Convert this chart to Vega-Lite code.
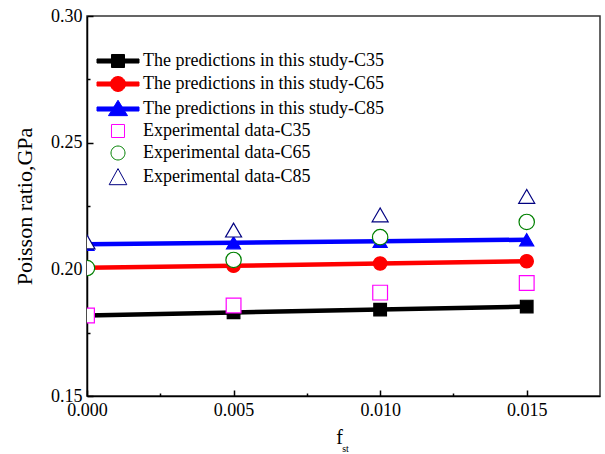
{
  "$schema": "https://vega.github.io/schema/vega-lite/v6.json",
  "autosize": "none",
  "padding": {"left": 87, "top": 16, "right": 5, "bottom": 58},
  "width": 513,
  "height": 380,
  "background": "white",
  "config": {
    "view": {"stroke": "#333333", "strokeWidth": 1.5},
    "font": "Liberation Serif",
    "axis": {
      "domainColor": "black", "domainWidth": 1.5,
      "tickColor": "black", "tickWidth": 1.5,
      "labelFont": "Liberation Serif", "labelFontSize": 18, "labelColor": "black",
      "titleFont": "Liberation Serif", "titleFontWeight": "normal", "titleColor": "black",
      "grid": false
    }
  },
  "title": {
    "text": "st",
    "orient": "bottom",
    "anchor": "middle",
    "font": "Liberation Serif",
    "fontSize": 10,
    "fontWeight": "normal",
    "color": "black",
    "offset": -3,
    "dx": 2
  },
  "data": {
    "values": [
      {"series": "The predictions in this study-C35", "kind": "pred", "fst": 0.000, "v": 0.1818},
      {"series": "The predictions in this study-C35", "kind": "pred", "fst": 0.005, "v": 0.1830},
      {"series": "The predictions in this study-C35", "kind": "pred", "fst": 0.010, "v": 0.1841},
      {"series": "The predictions in this study-C35", "kind": "pred", "fst": 0.015, "v": 0.1853},
      {"series": "The predictions in this study-C65", "kind": "pred", "fst": 0.000, "v": 0.2006},
      {"series": "The predictions in this study-C65", "kind": "pred", "fst": 0.005, "v": 0.2014},
      {"series": "The predictions in this study-C65", "kind": "pred", "fst": 0.010, "v": 0.2023},
      {"series": "The predictions in this study-C65", "kind": "pred", "fst": 0.015, "v": 0.2032},
      {"series": "The predictions in this study-C85", "kind": "pred", "fst": 0.000, "v": 0.2099},
      {"series": "The predictions in this study-C85", "kind": "pred", "fst": 0.005, "v": 0.2105},
      {"series": "The predictions in this study-C85", "kind": "pred", "fst": 0.010, "v": 0.2111},
      {"series": "The predictions in this study-C85", "kind": "pred", "fst": 0.015, "v": 0.2117},
      {"series": "Experimental data-C35", "kind": "exp", "fst": 0.000, "v": 0.1818},
      {"series": "Experimental data-C35", "kind": "exp", "fst": 0.005, "v": 0.1857},
      {"series": "Experimental data-C35", "kind": "exp", "fst": 0.010, "v": 0.1908},
      {"series": "Experimental data-C35", "kind": "exp", "fst": 0.015, "v": 0.1946},
      {"series": "Experimental data-C65", "kind": "exp", "fst": 0.000, "v": 0.2005},
      {"series": "Experimental data-C65", "kind": "exp", "fst": 0.005, "v": 0.2037},
      {"series": "Experimental data-C65", "kind": "exp", "fst": 0.010, "v": 0.2127},
      {"series": "Experimental data-C65", "kind": "exp", "fst": 0.015, "v": 0.2187},
      {"series": "Experimental data-C85", "kind": "exp", "fst": 0.000, "v": 0.2108},
      {"series": "Experimental data-C85", "kind": "exp", "fst": 0.005, "v": 0.2155},
      {"series": "Experimental data-C85", "kind": "exp", "fst": 0.010, "v": 0.2215},
      {"series": "Experimental data-C85", "kind": "exp", "fst": 0.015, "v": 0.2288}
    ]
  },
  "encoding": {
    "x": {
      "field": "fst", "type": "quantitative",
      "scale": {"domain": [0, 0.0175], "nice": false, "zero": false},
      "axis": {
        "title": "f",
        "titleFontSize": 20,
        "titleX": 252,
        "titleAlign": "center",
        "titlePadding": 5,
        "values": [0, 0.0025, 0.005, 0.0075, 0.01, 0.0125, 0.015],
        "format": ".3f",
        "labelExpr": "indexof(['0.000','0.005','0.010','0.015'], datum.label) >= 0 ? datum.label : ''",
        "tickSize": {"condition": {"test": "indexof([0, 0.005, 0.01, 0.015], datum.value) >= 0", "value": -6}, "value": -3},
        "labelPadding": 11,
        "labelFlush": false,
        "labelOverlap": false
      }
    },
    "y": {
      "field": "v", "type": "quantitative",
      "scale": {"domain": [0.15, 0.30], "nice": false, "zero": false},
      "axis": {
        "title": "Poisson ratio,GPa",
        "titleFontSize": 22,
        "titleX": -63,
        "titleBaseline": "middle",
        "values": [0.15, 0.175, 0.2, 0.225, 0.25, 0.275, 0.3],
        "format": ".2f",
        "labelExpr": "indexof(['0.15','0.20','0.25','0.30'], datum.label) >= 0 ? datum.label : ''",
        "tickSize": {"condition": {"test": "indexof([0.15, 0.2, 0.25, 0.3], datum.value) >= 0", "value": -6}, "value": -3},
        "labelPadding": 11,
        "labelFlush": false,
        "labelOverlap": false
      }
    }
  },
  "layer": [
    {
      "transform": [{"filter": "datum.kind == 'pred'"}],
      "mark": {"type": "line", "strokeWidth": 4.5, "clip": true},
      "encoding": {
        "stroke": {
          "field": "series", "type": "nominal", "legend": null,
          "scale": {
            "domain": ["The predictions in this study-C35", "The predictions in this study-C65", "The predictions in this study-C85"],
            "range": ["#000000", "#ff0000", "#0000ff"]
          }
        }
      }
    },
    {
      "mark": {"type": "point", "strokeWidth": 1.2, "opacity": 1, "fillOpacity": 1, "clip": true},
      "encoding": {
        "stroke": {
          "field": "series", "type": "nominal", "legend": null,
          "scale": {
            "domain": ["The predictions in this study-C35", "The predictions in this study-C65", "The predictions in this study-C85", "Experimental data-C35", "Experimental data-C65", "Experimental data-C85"],
            "range": ["#000000", "#ff0000", "#0000ff", "#ff00ff", "#008000", "#000080"]
          }
        },
        "fill": {
          "field": "series", "type": "nominal", "legend": null,
          "scale": {
            "domain": ["The predictions in this study-C35", "The predictions in this study-C65", "The predictions in this study-C85", "Experimental data-C35", "Experimental data-C65", "Experimental data-C85"],
            "range": ["#000000", "#ff0000", "#0000ff", "#ffffff", "#ffffff", "#ffffff"]
          }
        },
        "shape": {
          "field": "series", "type": "nominal", "legend": null,
          "scale": {
            "domain": ["The predictions in this study-C35", "The predictions in this study-C65", "The predictions in this study-C85", "Experimental data-C35", "Experimental data-C65", "Experimental data-C85"],
            "range": ["square", "circle", "triangle-up", "square", "circle", "triangle-up"]
          }
        },
        "size": {
          "field": "series", "type": "nominal", "legend": null,
          "scale": {
            "domain": ["The predictions in this study-C35", "The predictions in this study-C65", "The predictions in this study-C85", "Experimental data-C35", "Experimental data-C65", "Experimental data-C85"],
            "range": [160, 256, 340, 180, 225, 310]
          }
        }
      }
    },
    {
      "transform": [{"filter": "false"}],
      "mark": {"type": "point", "strokeWidth": 1, "opacity": 1, "fillOpacity": 1},
      "encoding": {
        "stroke": {
          "field": "series", "type": "nominal",
          "scale": {
            "domain": ["The predictions in this study-C35", "The predictions in this study-C65", "The predictions in this study-C85", "Experimental data-C35", "Experimental data-C65", "Experimental data-C85"],
            "range": ["#000000", "#ff0000", "#0000ff", "#ff00ff", "#008000", "#000080"]
          },
          "legend": {
            "title": null,
            "orient": "none",
            "legendX": 8,
            "legendY": 36,
            "padding": 0,
            "symbolSize": 196,
            "symbolStrokeWidth": 1,
            "labelFont": "Liberation Serif",
            "labelFontSize": 18,
            "labelColor": "black",
            "labelOffset": 30,
            "labelLimit": 400,
            "rowPadding": 4
          }
        },
        "fill": {
          "field": "series", "type": "nominal",
          "scale": {
            "domain": ["The predictions in this study-C35", "The predictions in this study-C65", "The predictions in this study-C85", "Experimental data-C35", "Experimental data-C65", "Experimental data-C85"],
            "range": ["#000000", "#ff0000", "#0000ff", "#ffffff", "#ffffff", "#ffffff"]
          },
          "legend": {
            "title": null,
            "orient": "none",
            "legendX": 8,
            "legendY": 36,
            "padding": 0,
            "symbolSize": 196,
            "symbolStrokeWidth": 1,
            "labelFont": "Liberation Serif",
            "labelFontSize": 18,
            "labelColor": "black",
            "labelOffset": 30,
            "labelLimit": 400,
            "rowPadding": 4
          }
        },
        "shape": {
          "field": "series", "type": "nominal",
          "scale": {
            "domain": ["The predictions in this study-C35", "The predictions in this study-C65", "The predictions in this study-C85", "Experimental data-C35", "Experimental data-C65", "Experimental data-C85"],
            "range": [
              "M-1,-0.29H5V0.29H-1Z M1.07,-0.93H2.93V0.93H1.07Z",
              "M-1,-0.29H5V0.29H-1Z M3.07,0A1.07,1.07 0 1,1 0.93,0A1.07,1.07 0 1,1 3.07,0Z",
              "M-1,-0.29H5V0.29H-1Z M2,-1.25L3.36,0.95H0.64Z",
              "M1.07,-0.93H2.93V0.93H1.07Z",
              "M3,0A1,1 0 1,1 1,0A1,1 0 1,1 3,0Z",
              "M2,-1.2L3.26,1.1H0.74Z"
            ]
          },
          "legend": {
            "title": null,
            "orient": "none",
            "legendX": 8,
            "legendY": 36,
            "padding": 0,
            "symbolSize": 196,
            "symbolStrokeWidth": 1,
            "labelFont": "Liberation Serif",
            "labelFontSize": 18,
            "labelColor": "black",
            "labelOffset": 30,
            "labelLimit": 400,
            "rowPadding": 4
          }
        }
      }
    }
  ],
  "resolve": {"scale": {"shape": "independent", "fill": "independent", "stroke": "independent", "size": "independent"}}
}
